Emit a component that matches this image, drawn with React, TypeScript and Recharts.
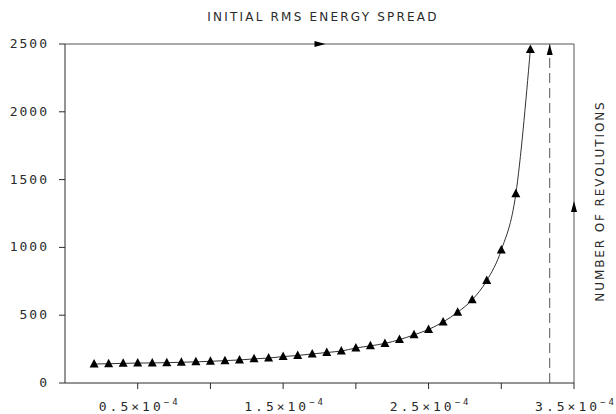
import React from "react";
import {
  LineChart,
  Line,
  XAxis,
  YAxis,
  ReferenceLine,
  ReferenceDot,
} from "recharts";

// energy spread in units of 1e-4
const spread = [
  0.2, 0.3, 0.4, 0.5, 0.6, 0.7, 0.8, 0.9, 1.0, 1.1, 1.2, 1.3, 1.4, 1.5, 1.6,
  1.7, 1.8, 1.9, 2.0, 2.1, 2.2, 2.3, 2.4, 2.5, 2.6, 2.7, 2.8, 2.9, 3.0, 3.1, 3.2,
];
const revolutions = [
  140, 142, 145, 147, 148, 150, 153, 156, 160, 165, 170, 178, 184, 195, 203,
  214, 225, 236, 258, 274, 292, 320, 355, 395, 450, 522, 614, 755, 980, 1395,
  2460,
];
const xTicks = [0.5, 1.0, 1.5, 2.0, 2.5, 3.0, 3.5];
const xLabels = ["0.5", "1.5", "2.5", "3.5"];
const yTicks = [0, 500, 1000, 1500, 2000, 2500];
const cutoff = 3.333; // dashed limit

const data = spread.map((x, i) => ({ x, n: revolutions[i] }));

const INK = "#2a2a2a";
const MONO = "'DejaVu Sans Mono', monospace";
const SANS = "'DejaVu Sans', sans-serif";

const Tri = (props: any) => {
  const { cx, cy } = props;
  if (cx == null || cy == null) return null;
  return (
    <polygon
      points={`${cx},${cy - 5} ${cx - 4.5},${cy + 3.5} ${cx + 4.5},${cy + 3.5}`}
      fill="#000"
    />
  );
};

const ArrowRight = (props: any) => {
  const { cx, cy } = props;
  return (
    <polygon points={`${cx + 6},${cy} ${cx - 5},${cy - 3} ${cx - 5},${cy + 3}`} fill="#000" />
  );
};

const ArrowUp = (props: any) => {
  const { cx, cy } = props;
  return (
    <polygon points={`${cx},${cy - 6} ${cx - 3},${cy + 5} ${cx + 3},${cy + 5}`} fill="#000" />
  );
};

const XTick = ({ x, y, payload }: any) => {
  const s = payload.value.toFixed(1);
  if (!xLabels.includes(s)) return null;
  return (
    <text
      x={x + 2}
      y={y + 20}
      textAnchor="middle"
      fontFamily={MONO}
      fontSize={13}
      letterSpacing={3}
      fill={INK}
    >
      {s}×10
      <tspan dy={-6} fontSize={9}>
        −4
      </tspan>
    </text>
  );
};

const YTick = ({ x, y, payload }: any) => (
  <text
    x={x}
    y={y + 4}
    textAnchor="end"
    fontFamily={MONO}
    fontSize={13}
    letterSpacing={2}
    fill={INK}
  >
    {payload.value}
  </text>
);

export default function App() {
  return (
    <div
      style={{
        position: "absolute",
        left: 0,
        top: 0,
        width: 616,
        height: 414,
        background: "#fff",
      }}
    >
      <div
        style={{
          position: "absolute",
          left: 0,
          width: 646,
          top: 10,
          textAlign: "center",
          fontFamily: SANS,
          fontSize: 12,
          letterSpacing: 2.2,
          color: INK,
        }}
      >
        INITIAL RMS ENERGY SPREAD
      </div>
      <div
        style={{
          position: "absolute",
          left: 600,
          top: 201,
          transform: "translate(-50%, -50%) rotate(-90deg)",
          whiteSpace: "nowrap",
          fontFamily: SANS,
          fontSize: 12,
          letterSpacing: 1.9,
          color: INK,
        }}
      >
        NUMBER OF REVOLUTIONS
      </div>
      <LineChart
        width={616}
        height={414}
        data={data}
        margin={{ top: 44, right: 42, bottom: 6, left: 5 }}
      >
        <XAxis
          dataKey="x"
          type="number"
          domain={[0, 3.5]}
          ticks={xTicks}
          tick={<XTick />}
          tickSize={6}
          height={25}
          stroke={INK}
          interval={0}
        />
        <YAxis
          type="number"
          domain={[0, 2500]}
          ticks={yTicks}
          tick={<YTick />}
          tickSize={6}
          tickMargin={10}
          width={60}
          stroke={INK}
          interval={0}
        />
        <ReferenceLine y={2500} stroke="#555" strokeWidth={1} />
        <ReferenceLine x={3.5} stroke="#555" strokeWidth={1} />
        <ReferenceLine x={cutoff} stroke="#555" strokeDasharray="10 5" />
        <ReferenceDot x={1.75} y={2500} shape={<ArrowRight />} ifOverflow="visible" />
        <ReferenceDot x={3.5} y={1298} shape={<ArrowUp />} ifOverflow="visible" />
        <ReferenceDot x={cutoff} y={2455} shape={<ArrowUp />} ifOverflow="visible" />
        <Line
          dataKey="n"
          type="monotone"
          stroke="#333"
          strokeWidth={1}
          dot={<Tri />}
          activeDot={false}
          isAnimationActive={false}
        />
      </LineChart>
    </div>
  );
}
